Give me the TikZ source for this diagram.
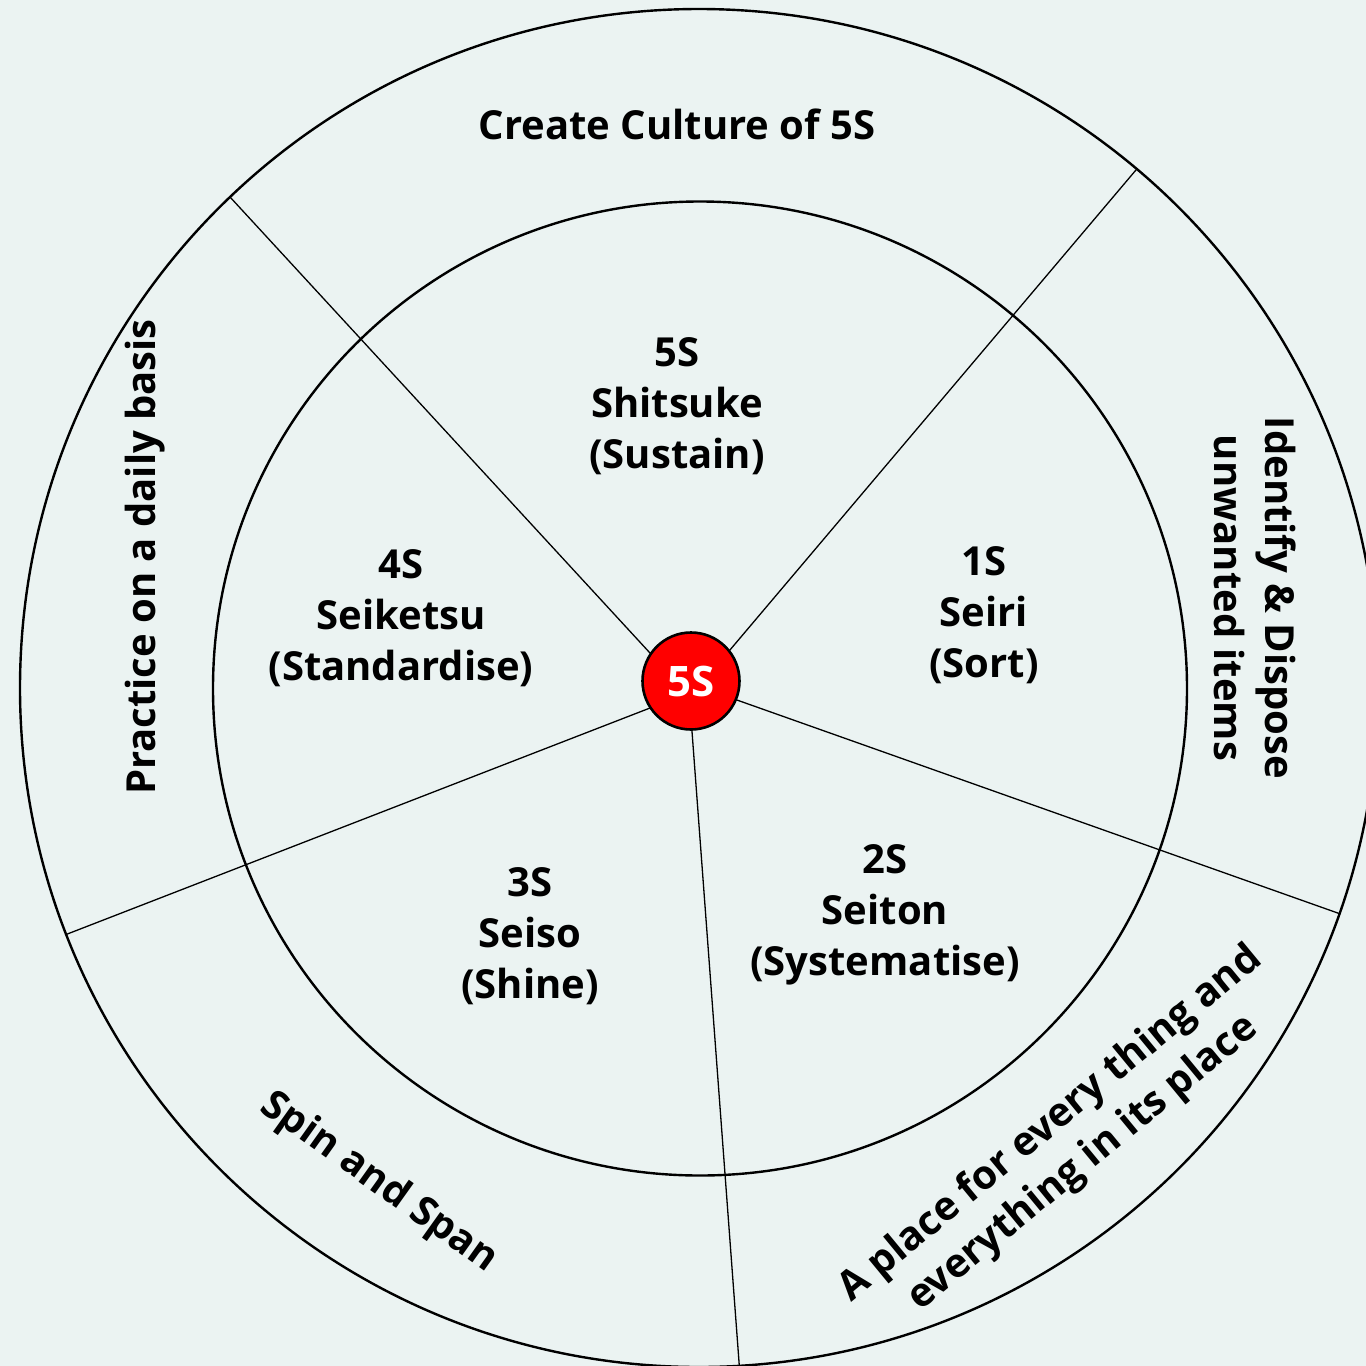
\documentclass[tikz,border=0pt]{standalone}
\usepackage{fontspec}
\setmainfont{Open Sans}
\definecolor{bgcol}{RGB}{235,243,242}
\definecolor{hubred}{RGB}{255,0,0}
\begin{document}
\begin{tikzpicture}[x=0.5pt,y=-0.5pt,
  lbl/.style={font=\bfseries\fontsize{20}{25.5}\selectfont, align=center, inner sep=0pt, text=black},
  ring/.style={draw=black, line width=1.2pt},
  spoke/.style={draw=black, line width=0.65pt},
  hub/.style={circle, fill=hubred, draw=black, line width=1.3pt, minimum size=97pt*0.5, inner sep=0pt, text=white, font=\bfseries\fontsize{21}{24}\selectfont}]
\useasboundingbox (0,0) rectangle (1366,1366);
\fill[bgcol] (0,0) rectangle (1366,1366);
% rings
\coordinate (oc) at (699,688);
\coordinate (ic) at (700,688.5);
\begin{scope}
  \clip (0,0) rectangle (1366,1366);
  \draw[ring] (oc) circle[radius=339.5pt];
\end{scope}
\draw[ring] (ic) circle[radius=243.5pt];
% spokes
\coordinate (i1) at (723.5,657.6); \coordinate (o1) at (1136.8,169.0);
\coordinate (i2) at (656.8,660.4); \coordinate (o2) at (230.0,197.0);
\coordinate (i3) at (659.3,704.4); \coordinate (o3) at (66.3,934.4);
\coordinate (i4) at (691.3,722.0); \coordinate (o4) at (739.3,1365.8);
\coordinate (i5) at (727.6,696.7); \coordinate (o5) at (1339.4,913.6);
\draw[spoke] (i1) -- (o1);
\draw[spoke] (i2) -- (o2);
\draw[spoke] (i3) -- (o3);
\draw[spoke] (i4) -- (o4);
\draw[spoke] (i5) -- (o5);
% hub
\node[hub] (hub) at (691,681) {5S};
% inner labels
\node[lbl] (s5) at (677,406) {5S\\Shitsuke\\(Sustain)};
\node[lbl] (s4) at (401,618) {4S\\Seiketsu\\(Standardise)};
\node[lbl] (s1) at (984,615) {1S\\Seiri\\(Sort)};
\node[lbl] (s2) at (885,915) {2S\\Seiton\\(Systematise)};
\node[lbl] (s3) at (530,936) {3S\\Seiso\\(Shine)};
% outer labels
\node[lbl] (title) at (677,124) {Create Culture of 5S};
\node[lbl, rotate=90] (daily) at (145,557) {Practice on a daily basis};
\node[lbl, rotate=-90] (ident) at (1255,598) {Identify \& Dispose\\unwanted items};
\node[lbl, rotate=-35.5] (spin) at (379,1183) {Spin and Span};
\node[lbl, rotate=39.5] (place) at (1067,1144) {A place for every thing and\\everything in its place};
\end{tikzpicture}
\end{document}
